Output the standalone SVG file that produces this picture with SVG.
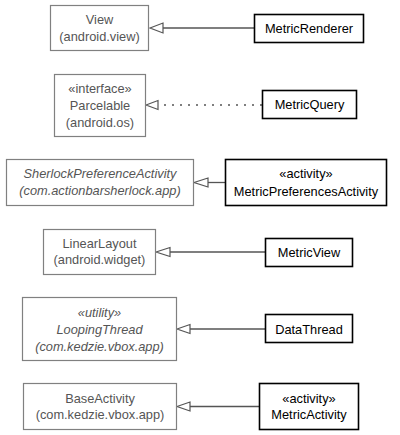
<svg xmlns="http://www.w3.org/2000/svg" width="400" height="435" viewBox="0 0 400 435">
<defs>
<style>
text{font-family:"Liberation Sans",Arial,sans-serif;font-size:12.8px;text-anchor:middle}
.ext rect{fill:#fff;stroke:#808080;stroke-width:1.2}
.ext text{fill:#555}
.it text{font-style:italic}
.own rect{fill:#fff;stroke:#000;stroke-width:1.6}
.own text{fill:#000}
.edge line{stroke:#555;stroke-width:1.3}
.edge .dot{stroke-dasharray:2 6;stroke-width:1.6}
.edge polygon{fill:#fff;stroke:#555;stroke-width:1.2}
</style>
</defs>
<rect width="400" height="435" fill="#fff"/>
<g id="connectors" class="edge">
<line x1="254" y1="28" x2="162" y2="28"/>
<polygon points="150,28 163,23 163,33"/>
<line class="dot" x1="262" y1="105" x2="158" y2="105"/>
<polygon points="146,105 158,100.5 158,109.5"/>
<line x1="225" y1="182.5" x2="208" y2="182.5"/>
<polygon points="194,182.5 208,178 208,187"/>
<line x1="265" y1="252" x2="170" y2="252"/>
<polygon points="156,252 170,247.5 170,256.5"/>
<line x1="265" y1="329" x2="190" y2="329"/>
<polygon points="177,329 190,324.5 190,333.5"/>
<line x1="259" y1="406.5" x2="190" y2="406.5"/>
<polygon points="177,406.5 190,402 190,411"/>
</g>
<g id="View" class="ext">
<rect x="50.5" y="5.5" width="98" height="45"/>
<text x="99.5" y="23.5">View</text>
<text x="99.5" y="40.5">(android.view)</text>
</g>
<g id="MetricRenderer" class="own">
<rect x="254.5" y="14.5" width="109" height="28"/>
<text x="309" y="33">MetricRenderer</text>
</g>
<g id="Parcelable" class="ext">
<rect x="54.5" y="74.5" width="91" height="62"/>
<text x="100" y="92.5">«interface»</text>
<text x="100" y="110">Parcelable</text>
<text x="100" y="126.5">(android.os)</text>
</g>
<g id="MetricQuery" class="own">
<rect x="262.5" y="90.5" width="94" height="28"/>
<text x="309.5" y="109">MetricQuery</text>
</g>
<g id="SherlockPreferenceActivity" class="ext it">
<rect x="6.5" y="159.5" width="187" height="46"/>
<text x="100" y="178">SherlockPreferenceActivity</text>
<text x="100" y="195">(com.actionbarsherlock.app)</text>
</g>
<g id="MetricPreferencesActivity" class="own">
<rect x="225.5" y="159.5" width="161" height="46"/>
<text x="306" y="177.5">«activity»</text>
<text x="306" y="195.5">MetricPreferencesActivity</text>
</g>
<g id="LinearLayout" class="ext">
<rect x="43.5" y="229.5" width="112" height="45"/>
<text x="99.5" y="247.5">LinearLayout</text>
<text x="99.5" y="264">(android.widget)</text>
</g>
<g id="MetricView" class="own">
<rect x="265.5" y="238.5" width="87" height="28"/>
<text x="309" y="257">MetricView</text>
</g>
<g id="LoopingThread" class="ext it">
<rect x="22.5" y="297.5" width="154" height="63"/>
<text x="99.5" y="317">«utility»</text>
<text x="99.5" y="334">LoopingThread</text>
<text x="99.5" y="350.5">(com.kedzie.vbox.app)</text>
</g>
<g id="DataThread" class="own">
<rect x="265.5" y="314.5" width="87" height="28"/>
<text x="309" y="333.5">DataThread</text>
</g>
<g id="BaseActivity" class="ext">
<rect x="23.5" y="383.5" width="153" height="46"/>
<text x="100" y="402.5">BaseActivity</text>
<text x="100" y="419">(com.kedzie.vbox.app)</text>
</g>
<g id="MetricActivity" class="own">
<rect x="259.5" y="383.5" width="99" height="46"/>
<text x="309" y="402.5">«activity»</text>
<text x="309" y="419">MetricActivity</text>
</g>
</svg>
